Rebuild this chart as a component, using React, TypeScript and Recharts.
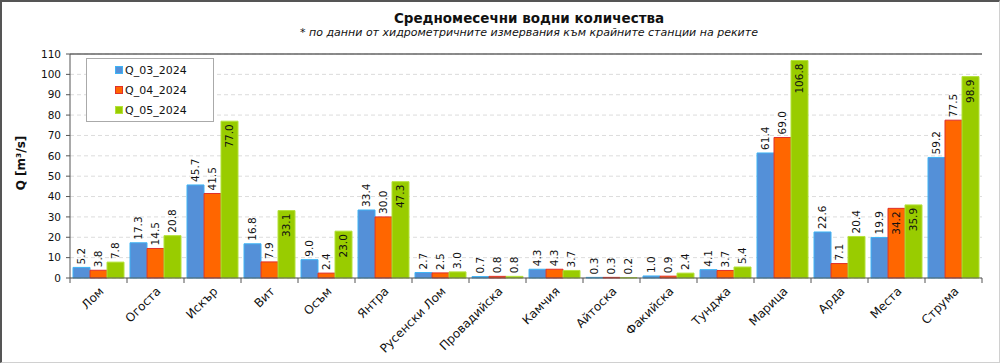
import React from 'react';
import { BarChart, Bar, XAxis, YAxis, CartesianGrid, Legend, LabelList, ReferenceLine } from 'recharts';

const categories = ['Лом', 'Огоста', 'Искър', 'Вит', 'Осъм', 'Янтра', 'Русенски Лом', 'Провадийска', 'Камчия', 'Айтоска', 'Факийска', 'Тунджа', 'Марица', 'Арда', 'Места', 'Струма'];
const q03 = [5.2, 17.3, 45.7, 16.8, 9.0, 33.4, 2.7, 0.7, 4.3, 0.3, 1.0, 4.1, 61.4, 22.6, 19.9, 59.2];
const q04 = [3.8, 14.5, 41.5, 7.9, 2.4, 30.0, 2.5, 0.8, 4.3, 0.3, 0.9, 3.7, 69.0, 7.1, 34.2, 77.5];
const q05 = [7.8, 20.8, 77.0, 33.1, 23.0, 47.3, 3.0, 0.8, 3.7, 0.2, 2.4, 5.4, 106.8, 20.4, 35.9, 98.9];
const seriesNames = ['Q_03_2024', 'Q_04_2024', 'Q_05_2024'];
const yTicks = [0, 10, 20, 30, 40, 50, 60, 70, 80, 90, 100, 110];
const titleText = 'Средномесечни водни количества';
const subtitleText = '* по данни от хидрометричните измервания към крайните станции на реките';
const yAxisTitle = 'Q [m³/s]';

// label placement (inside the top of the bar) per series, by category index
const insideLabels: Record<string, number[]> = {
  q03: [],
  q04: [14],
  q05: [2, 3, 4, 5, 12, 14, 15],
};

const data = categories.map((c, i) => ({ name: c, q03: q03[i], q04: q04[i], q05: q05[i] }));

const FONT = '"DejaVu Sans", Verdana, sans-serif';
const colors = ['#5490d8', '#ff6600', '#99cc00'];
const strokes = ['#3fb4f5', '#e0302a', '#b4e23a'];
const keys = ['q03', 'q04', 'q05'];

const makeLabel = (key: string) => (props: any) => {
  const { x, y, width, value, index } = props;
  const cx = Number(x) + Number(width) / 2;
  const inside = insideLabels[key].includes(index);
  const ty = inside ? Number(y) + 3 : Number(y) - 3;
  return (
    <text
      x={cx}
      y={ty}
      transform={`rotate(-90 ${cx} ${ty})`}
      textAnchor={inside ? 'end' : 'start'}
      dominantBaseline="central"
      fontSize={10.5}
      fontFamily={FONT}
      fill="#111"
    >
      {Number(value).toFixed(1)}
    </text>
  );
};

const XTick = (props: any) => {
  const { x, y, payload, index } = props;
  const w = Number(props.width) || 912;
  const band = w / categories.length;
  const left = x - band / 2;
  const right = x + band / 2;
  const tx = x + 6;
  const ty = y + 14;
  return (
    <g>
      <line x1={left} y1={y} x2={left} y2={y + 5} stroke="#555" strokeWidth={1} />
      {index === categories.length - 1 && (
        <line x1={right} y1={y} x2={right} y2={y + 5} stroke="#555" strokeWidth={1} />
      )}
      <text
        x={tx}
        y={ty}
        transform={`rotate(-45 ${tx} ${ty})`}
        textAnchor="end"
        fontSize={12}
        fontFamily={FONT}
        fill="#111"
      >
        {payload.value}
      </text>
    </g>
  );
};

const LegendBox = () => (
  <div
    style={{
      width: 126,
      height: 61,
      border: '1px solid #aaa',
      background: '#fff',
      fontFamily: FONT,
      fontSize: 11,
      color: '#111',
      boxSizing: 'content-box',
      paddingTop: 1,
    }}
  >
    {seriesNames.map((n, i) => (
      <div key={n} style={{ display: 'flex', alignItems: 'center', height: 20, paddingLeft: 28 }}>
        <span
          style={{
            display: 'inline-block',
            width: 6,
            height: 6,
            background: colors[i],
            border: `1px solid ${strokes[i]}`,
            marginRight: 2,
          }}
        />
        <span>{n}</span>
      </div>
    ))}
  </div>
);

export default function App() {
  return (
    <div style={{ position: 'absolute', left: 0, top: 0, width: 1000, height: 364, background: '#fff' }}>
      <div
        style={{
          position: 'absolute',
          left: 0,
          top: 0,
          width: 1000,
          height: 363,
          boxSizing: 'border-box',
          borderTop: '2px solid #555',
          borderLeft: '2px solid #555',
          borderRight: '1px solid #d0d0d0',
          borderBottom: '1px solid #d0d0d0',
          pointerEvents: 'none',
        }}
      />
      <div
        style={{
          position: 'absolute',
          left: 0,
          width: 1058,
          top: 10,
          textAlign: 'center',
          fontFamily: FONT,
          fontWeight: 'bold',
          fontSize: 13.5,
          color: '#111',
        }}
      >
        {titleText}
      </div>
      <div
        style={{
          position: 'absolute',
          left: 0,
          width: 1058,
          top: 26,
          textAlign: 'center',
          fontFamily: FONT,
          fontStyle: 'italic',
          fontSize: 11,
          color: '#111',
        }}
      >
        {subtitleText}
      </div>
      <div
        style={{
          position: 'absolute',
          left: 21,
          top: 163,
          transform: 'translate(-50%, -50%) rotate(-90deg)',
          fontFamily: FONT,
          fontWeight: 'bold',
          fontSize: 12,
          color: '#111',
          whiteSpace: 'nowrap',
        }}
      >
        {yAxisTitle}
      </div>
      <BarChart
        width={1000}
        height={364}
        data={data}
        margin={{ top: 54, right: 18, bottom: 0, left: 0 }}
        barCategoryGap={3}
        barGap={0}
        style={{ position: 'absolute', left: 0, top: 0 }}
      >
        <CartesianGrid horizontal vertical={false} stroke="#dcdcdc" strokeDasharray="4 3" />
        <XAxis
          dataKey="name"
          interval={0}
          tickLine={false}
          tickSize={0}
          tickMargin={0}
          axisLine={{ stroke: '#555' }}
          tick={<XTick />}
          height={86}
        />
        <YAxis
          domain={[0, 110]}
          ticks={yTicks}
          width={70}
          interval={0}
          tickSize={4}
          tickMargin={5}
          axisLine={{ stroke: '#555' }}
          tickLine={{ stroke: '#555' }}
          tick={{ fontSize: 10.5, fontFamily: FONT, fill: '#111' }}
        />
        <YAxis
          yAxisId="right"
          orientation="right"
          domain={[0, 110]}
          width={0}
          tick={false}
          tickLine={false}
          axisLine={{ stroke: '#666', strokeWidth: 1.5 }}
        />
        <ReferenceLine y={110} stroke="#666" strokeWidth={1.5} />
        <Legend
          layout="vertical"
          verticalAlign="middle"
          align="center"
          content={<LegendBox />}
          wrapperStyle={{ left: 86, top: 58, width: 128, height: 63 }}
        />
        {keys.map((k, i) => (
          <Bar
            key={k}
            dataKey={k}
            name={seriesNames[i]}
            fill={colors[i]}
            stroke={strokes[i]}
            strokeWidth={1}
            isAnimationActive={false}
          >
            <LabelList dataKey={k} content={makeLabel(k)} />
          </Bar>
        ))}
      </BarChart>
    </div>
  );
}
